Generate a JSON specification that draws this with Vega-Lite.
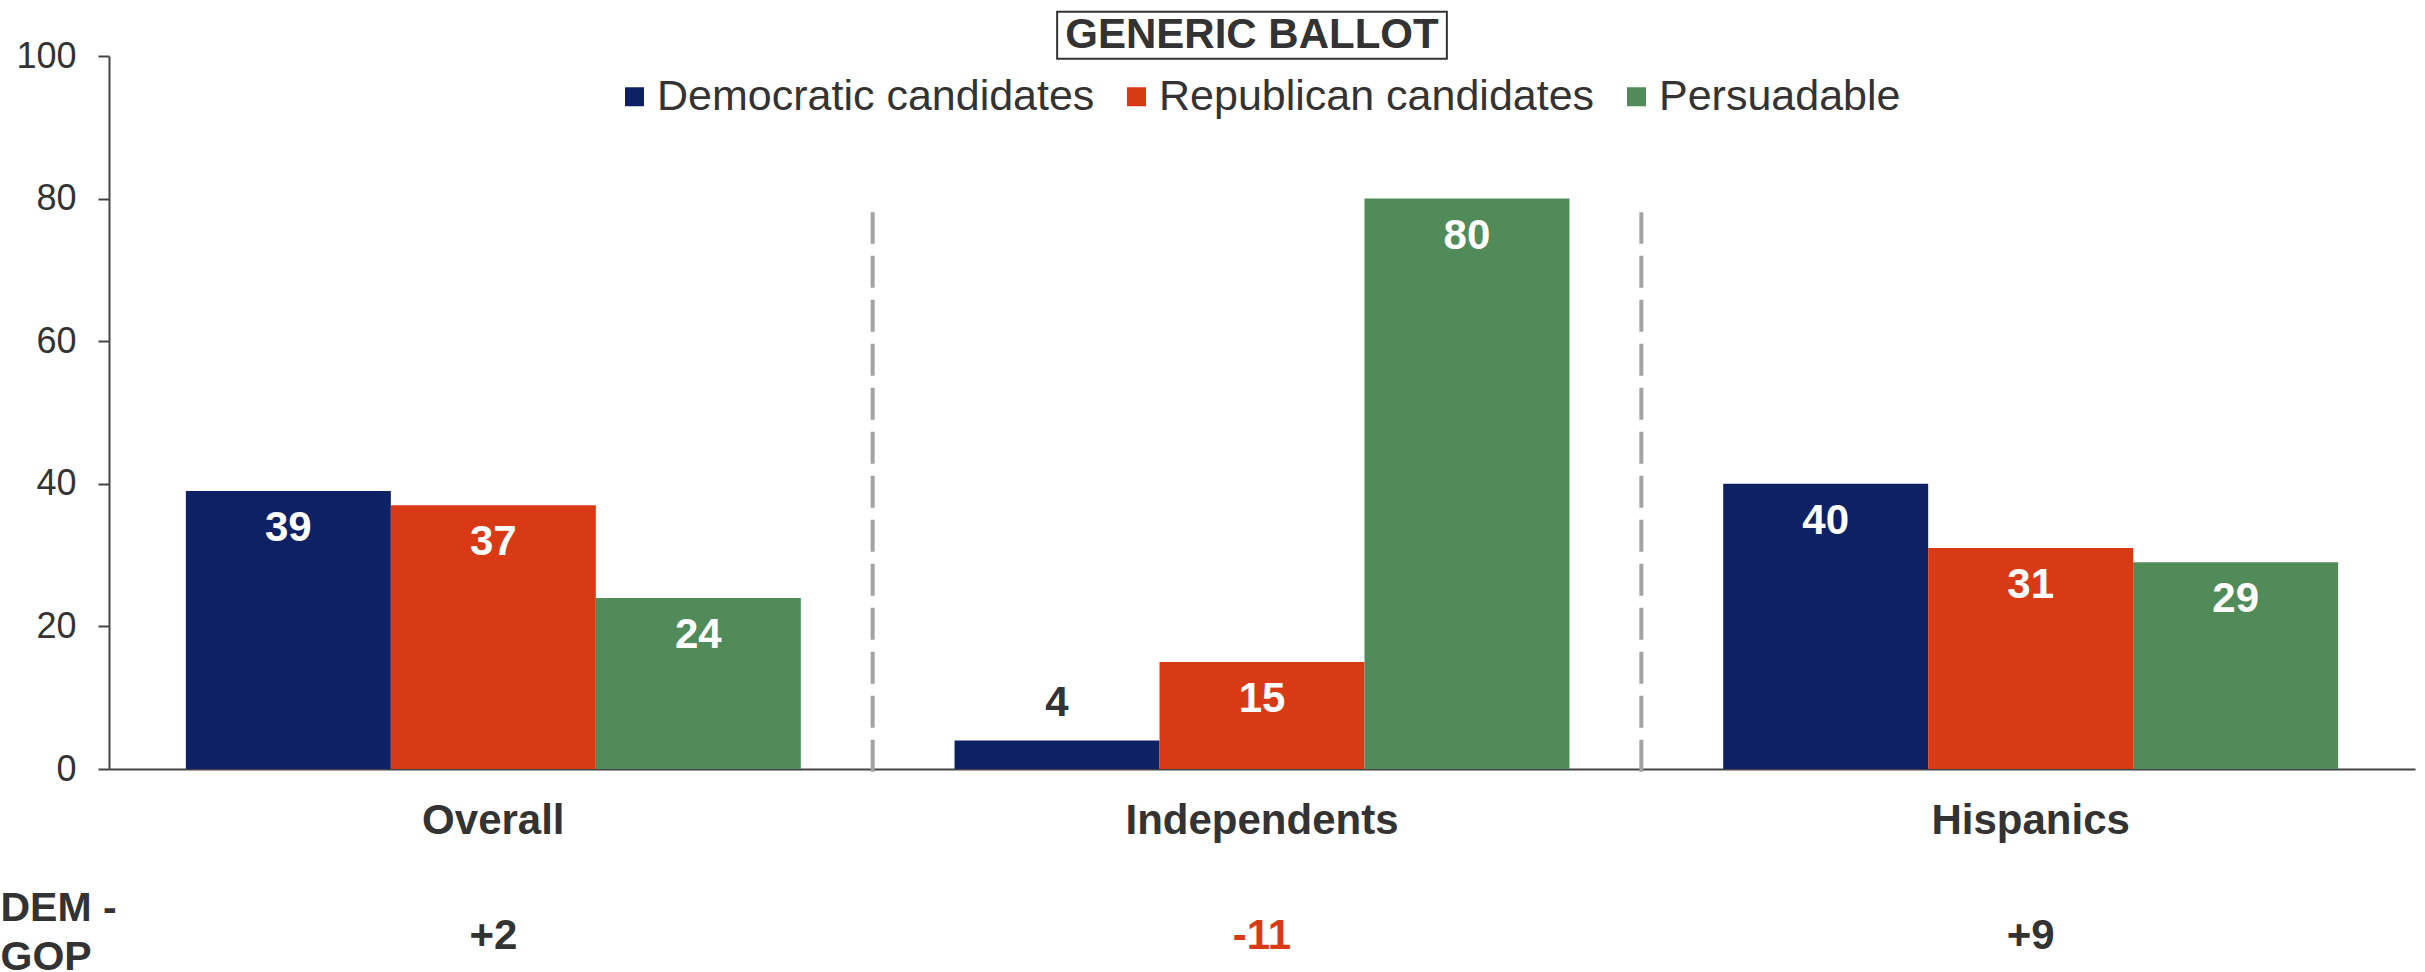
{
  "$schema": "https://vega.github.io/schema/vega-lite/v6.json",
  "autosize": "none",
  "width": 2306,
  "height": 713,
  "padding": {"left": 109, "top": 56, "right": 10, "bottom": 203},
  "background": "white",
  "config": {"font": "Liberation Sans", "view": {"stroke": null}},
  "resolve": {"axis": {"x": "independent", "y": "independent"}},
  "datasets": {
    "bars": [
      {"cat": "Overall", "series": "Democratic candidates", "value": 39},
      {"cat": "Overall", "series": "Republican candidates", "value": 37},
      {"cat": "Overall", "series": "Persuadable", "value": 24},
      {"cat": "Independents", "series": "Democratic candidates", "value": 4},
      {"cat": "Independents", "series": "Republican candidates", "value": 15},
      {"cat": "Independents", "series": "Persuadable", "value": 80},
      {"cat": "Hispanics", "series": "Democratic candidates", "value": 40},
      {"cat": "Hispanics", "series": "Republican candidates", "value": 31},
      {"cat": "Hispanics", "series": "Persuadable", "value": 29}
    ],
    "groups": [
      {"cat": "Overall", "diff": "+2"},
      {"cat": "Independents", "diff": "-11"},
      {"cat": "Hispanics", "diff": "+9"}
    ]
  },
  "layer": [
    {
      "data": {"name": "groups"},
      "transform": [{"filter": "datum.cat !== 'Hispanics'"}],
      "mark": {"type": "rule", "color": "#a3a3a3", "strokeWidth": 4, "strokeDash": [32, 12], "xOffset": -5},
      "encoding": {
        "x": {"field": "cat", "type": "nominal", "sort": ["Overall", "Independents", "Hispanics"], "bandPosition": 1, "axis": null},
        "y": {"datum": -0.4, "type": "quantitative", "axis": null},
        "y2": {"datum": 78.1}
      }
    },
    {
      "data": {"name": "bars"},
      "mark": {"type": "bar"},
      "encoding": {
        "x": {
          "field": "cat", "type": "nominal",
          "sort": ["Overall", "Independents", "Hispanics"],
          "scale": {"paddingInner": 0, "paddingOuter": 0},
          "axis": {
            "title": null, "orient": "bottom", "ticks": false, "domainColor": "#444", "domainWidth": 2,
            "labelFontSize": 42, "labelFontWeight": "bold", "labelColor": "#333",
            "labelPadding": 31, "labelAngle": 0, "labelLimit": 0
          }
        },
        "xOffset": {
          "field": "series", "type": "nominal",
          "sort": ["Democratic candidates", "Republican candidates", "Persuadable"],
          "scale": {"paddingInner": 0, "paddingOuter": 0.375}
        },
        "y": {
          "field": "value", "type": "quantitative",
          "scale": {"domain": [0, 100], "nice": false, "zero": true},
          "axis": {
            "orient": "left",
            "values": [0, 20, 40, 60, 80, 100], "grid": false,
            "domainColor": "#444", "domainWidth": 2, "tickColor": "#444", "tickWidth": 2, "tickSize": 11,
            "labelFontSize": 36, "labelColor": "#333", "labelPadding": 22,
            "title": ["DEM -", "GOP"], "titleAngle": 0, "titleAlign": "left", "titleBaseline": "alphabetic",
            "titleX": -109, "titleY": 864, "titleFontSize": 41, "titleFontWeight": "bold",
            "titleColor": "#333", "titleLineHeight": 49
          }
        },
        "color": {
          "field": "series", "type": "nominal",
          "scale": {
            "domain": ["Democratic candidates", "Republican candidates", "Persuadable"],
            "range": ["#0f2165", "#d93a16", "#518b59"]
          },
          "legend": {
            "title": null, "orient": "none", "direction": "horizontal",
            "legendX": 504, "legendY": 19, "padding": 0,
            "symbolType": "square", "symbolSize": 361, "symbolStrokeWidth": 0,
            "labelFontSize": 43, "labelColor": "#333", "labelOffset": 1,
            "columnPadding": 20, "labelLimit": 0
          }
        }
      }
    },
    {
      "data": {"name": "bars"},
      "transform": [{"filter": "datum.value >= 10"}],
      "mark": {"type": "text", "dy": 37, "fontSize": 42, "fontWeight": "bold", "color": "white", "baseline": "middle"},
      "encoding": {
        "x": {"field": "cat", "type": "nominal", "sort": ["Overall", "Independents", "Hispanics"], "axis": null},
        "xOffset": {"field": "series", "type": "nominal", "sort": ["Democratic candidates", "Republican candidates", "Persuadable"]},
        "y": {"field": "value", "type": "quantitative", "axis": null},
        "text": {"field": "value", "type": "quantitative"}
      }
    },
    {
      "data": {"name": "bars"},
      "transform": [{"filter": "datum.value < 10"}],
      "mark": {"type": "text", "dy": -37, "fontSize": 42, "fontWeight": "bold", "color": "#333", "baseline": "middle"},
      "encoding": {
        "x": {"field": "cat", "type": "nominal", "sort": ["Overall", "Independents", "Hispanics"], "axis": null},
        "xOffset": {"field": "series", "type": "nominal", "sort": ["Democratic candidates", "Republican candidates", "Persuadable"]},
        "y": {"field": "value", "type": "quantitative", "axis": null},
        "text": {"field": "value", "type": "quantitative"}
      }
    },
    {
      "data": {"name": "groups"},
      "mark": {"type": "text", "fontSize": 42, "fontWeight": "bold", "baseline": "middle"},
      "encoding": {
        "x": {"field": "cat", "type": "nominal", "sort": ["Overall", "Independents", "Hispanics"], "axis": null},
        "y": {"datum": -23.4, "type": "quantitative", "axis": null},
        "text": {"field": "diff"},
        "color": {"condition": {"test": "toNumber(datum.diff) < 0", "value": "#d93a16"}, "value": "#333"}
      }
    },
    {
      "data": {"values": [{"label": "GENERIC BALLOT"}]},
      "mark": {"type": "bar", "fill": "white", "stroke": "#333", "strokeWidth": 2, "width": {"band": 0.507}, "xOffset": -10},
      "encoding": {
        "x": {"datum": "Independents", "type": "nominal", "axis": null},
        "y": {"datum": 99.6, "type": "quantitative", "axis": null},
        "y2": {"datum": 106.2}
      }
    },
    {
      "data": {"values": [{"label": "GENERIC BALLOT"}]},
      "mark": {"type": "text", "fontSize": 42, "fontWeight": "bold", "color": "#333", "baseline": "middle", "dx": -10},
      "encoding": {
        "x": {"datum": "Independents", "type": "nominal", "axis": null},
        "y": {"datum": 102.9, "type": "quantitative", "axis": null},
        "text": {"field": "label"}
      }
    }
  ]
}
